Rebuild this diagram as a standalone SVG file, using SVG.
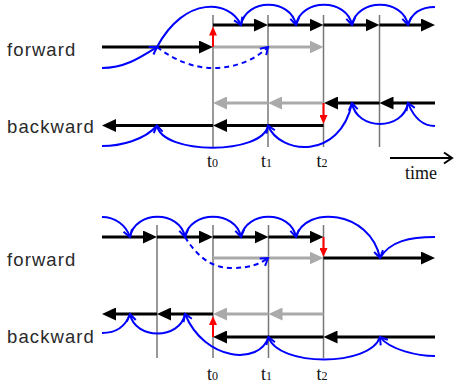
<svg xmlns="http://www.w3.org/2000/svg" width="456" height="385" viewBox="0 0 456 385">
<style>
.bg{fill:#fff}
.v{stroke:#777;stroke-width:1.5;fill:none}
.k{stroke:#000;stroke-width:3;fill:none;marker-end:url(#aK)}
.g{stroke:#aaa;stroke-width:3;fill:none;marker-end:url(#aG)}
.r{stroke:#f00;stroke-width:2;fill:none;marker-end:url(#aR)}
.b{stroke:#00f;stroke-width:2;fill:none}
.ba{marker-end:url(#aB)}
.d{stroke-dasharray:5,4}
.lab{font-family:"Liberation Sans",Arial,sans-serif;font-size:18.5px;letter-spacing:1.1px;fill:#2a2a2a}
.t{font-family:"Liberation Serif","Times New Roman",serif;font-size:18px;fill:#111}
.sub{font-size:12px}
</style>
<defs>
<marker id="aK" markerUnits="userSpaceOnUse" markerWidth="14" markerHeight="13" refX="4" refY="6.5" orient="auto"><path d="M0,0 L14,6.5 L0,13 z" fill="#000"/></marker>
<marker id="aG" markerUnits="userSpaceOnUse" markerWidth="14" markerHeight="13" refX="4" refY="6.5" orient="auto"><path d="M0,0 L14,6.5 L0,13 z" fill="#aaa"/></marker>
<marker id="aR" markerUnits="userSpaceOnUse" markerWidth="9" markerHeight="8" refX="3" refY="4" orient="auto"><path d="M0,0 L9,4 L0,8 z" fill="#f00"/></marker>
<marker id="aB" markerUnits="userSpaceOnUse" markerWidth="12" markerHeight="12" refX="8" refY="6" orient="auto" overflow="visible"><path d="M1,1.5 L8,6 L1,10.5" fill="none" stroke="#00f" stroke-width="2"/></marker>
<marker id="aT" markerUnits="userSpaceOnUse" markerWidth="12" markerHeight="14" refX="9" refY="6" orient="auto" overflow="visible"><path d="M1,0.5 L9,6 L1,11.5" fill="none" stroke="#000" stroke-width="2"/></marker>
</defs>
<rect class="bg" x="0" y="0" width="456" height="385"/>

<g id="labels">
<text class="lab" x="7" y="56">forward</text>
<text class="lab" x="7" y="133">backward</text>
<text class="lab" x="7" y="266">forward</text>
<text class="lab" x="7" y="343">backward</text>
<text class="t" x="207" y="167">t<tspan class="sub">0</tspan></text>
<text class="t" x="261" y="167">t<tspan class="sub">1</tspan></text>
<text class="t" x="316.5" y="167">t<tspan class="sub">2</tspan></text>
<text class="t" x="207" y="380">t<tspan class="sub">0</tspan></text>
<text class="t" x="261" y="380">t<tspan class="sub">1</tspan></text>
<text class="t" x="316.5" y="380">t<tspan class="sub">2</tspan></text>
<text class="t" x="405" y="178.5">time</text>
</g>

<g id="top-panel">
<g id="top-time-lines">
<line class="v" x1="213" y1="15" x2="213" y2="147"/>
<line class="v" x1="268" y1="15" x2="268" y2="147"/>
<line class="v" x1="323.5" y1="15" x2="323.5" y2="147"/>
<line class="v" x1="379.5" y1="15" x2="379.5" y2="147"/>
</g>
<g id="top-forward">
<line class="k" x1="213" y1="25" x2="258" y2="25"/>
<line class="k" x1="268" y1="25" x2="313.5" y2="25"/>
<line class="k" x1="323.5" y1="25" x2="369.5" y2="25"/>
<line class="k" x1="379.5" y1="25" x2="425" y2="25"/>
<line class="g" x1="213" y1="47" x2="313.5" y2="47"/>
<line class="k" x1="102" y1="47" x2="203" y2="47"/>
<line class="r" x1="213" y1="47" x2="213" y2="32.5"/>
</g>
<g id="top-backward">
<line class="g" x1="323.5" y1="103" x2="278" y2="103"/>
<line class="g" x1="268" y1="103" x2="223" y2="103"/>
<line class="k" x1="435" y1="103" x2="389.5" y2="103"/>
<line class="k" x1="379.5" y1="103" x2="334" y2="103"/>
<line class="k" x1="323.5" y1="125.5" x2="223" y2="125.5"/>
<line class="k" x1="213" y1="125.5" x2="112" y2="125.5"/>
<line class="r" x1="323.5" y1="103" x2="323.5" y2="118"/>
</g>
</g>

<g id="bottom-panel">
<g id="bottom-time-lines">
<line class="v" x1="157" y1="225" x2="157" y2="358"/>
<line class="v" x1="213" y1="225" x2="213" y2="358"/>
<line class="v" x1="268.5" y1="225" x2="268.5" y2="358"/>
<line class="v" x1="323.5" y1="225" x2="323.5" y2="358"/>
</g>
<g id="bottom-forward">
<line class="k" x1="102" y1="237" x2="147" y2="237"/>
<line class="k" x1="157" y1="237" x2="203" y2="237"/>
<line class="k" x1="213" y1="237" x2="258.5" y2="237"/>
<line class="k" x1="268.5" y1="237" x2="313.5" y2="237"/>
<line class="g" x1="213" y1="258" x2="313.5" y2="258"/>
<line class="k" x1="323.5" y1="258" x2="425" y2="258"/>
<line class="r" x1="323.5" y1="237" x2="323.5" y2="251"/>
</g>
<g id="bottom-backward">
<line class="g" x1="323.5" y1="314" x2="278.5" y2="314"/>
<line class="g" x1="268.5" y1="314" x2="223" y2="314"/>
<line class="k" x1="213" y1="314" x2="167" y2="314"/>
<line class="k" x1="157" y1="314" x2="112" y2="314"/>
<line class="k" x1="435" y1="337" x2="333.5" y2="337"/>
<line class="k" x1="323.5" y1="337" x2="223" y2="337"/>
<line class="r" x1="213" y1="337" x2="213" y2="322"/>
</g>
</g>

<g id="connectors">
<path class="b ba" d="M102,68 C125,68 141,57 157,47"/>
<path class="b ba" d="M157,47 C185,-5 230,0 241,25"/>
<path class="b ba" d="M241,25 C246,-2 291,-2 296,25"/>
<path class="b ba" d="M296,25 C301,-2 347,-2 352,25"/>
<path class="b ba" d="M352,25 C357,-2 403,-2 408,25"/>
<path class="b" d="M408,25 C412,12 423,7 435,7"/>
<path class="b ba d" d="M157,47 C175,61 195,68 213,68 C235,68 255,60 268,47"/>

<path class="b ba" d="M435,126 C420,126 412,113 408,103"/>
<path class="b ba" d="M408,103 C403,131 357,131 352,103"/>
<path class="b ba" d="M352,103 C340,160 280,155 268,125.5"/>
<path class="b ba" d="M268,125.5 C263,155 162,155 157,125.5"/>
<path class="b" d="M157,125.5 C145,140 120,146 102,146"/>

<path class="b ba" d="M102,217 C115,217 126,225 130,237"/>
<path class="b ba" d="M130,237 C135,210 180,210 185,237"/>
<path class="b ba" d="M185,237 C190,210 236,210 241,237"/>
<path class="b ba" d="M241,237 C246,210 291,210 296,237"/>
<path class="b ba" d="M296,237 C305,205 370,210 380,258"/>
<path class="b" d="M380,258 C390,241 410,237 435,237"/>
<path class="b ba d" d="M185,237 C200,261 215,268 232,268 C250,268 260,264 268,258"/>

<path class="b ba" d="M435,356 C418,356 390,350 380,337"/>
<path class="b ba" d="M380,337 C370,367 278,367 268.5,337"/>
<path class="b ba" d="M268.5,337 C260,365 205,362 185,314"/>
<path class="b ba" d="M185,314 C180,340 135,340 130,314"/>
<path class="b" d="M130,314 C125,328 115,333 102,333"/>

<line x1="390" y1="158" x2="452" y2="158" stroke="#000" stroke-width="2" marker-end="url(#aT)"/>
</g>
</svg>
